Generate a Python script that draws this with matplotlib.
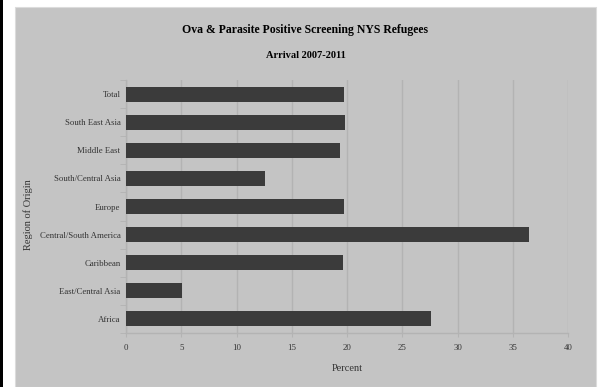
import matplotlib.pyplot as plt
from matplotlib.patches import Rectangle

regions = ['Africa', 'East/Central Asia', 'Caribbean', 'Central/South America',
           'Europe', 'South/Central Asia', 'Middle East', 'South East Asia', 'Total']
percent = [27.6, 5.05, 19.6, 36.5, 19.7, 12.6, 19.35, 19.8, 19.7]
xticks = [0, 5, 10, 15, 20, 25, 30, 35, 40]

plt.rcParams['font.family'] = ['Liberation Serif', 'DejaVu Serif']

W, H = 602, 387
fig = plt.figure(figsize=(W / 100, H / 100), dpi=100)
fig.patch.set_facecolor('white')

# gray chart area and left black border
fig.add_artist(Rectangle((15 / W, 0), (596 - 15) / W, (H - 7) / H,
                         transform=fig.transFigure, facecolor='#c4c4c4',
                         edgecolor='#dcdcdc', linewidth=0.8, zorder=0))
fig.add_artist(Rectangle((0, 0), 2.5 / W, 1, transform=fig.transFigure,
                         facecolor='black', edgecolor='none', zorder=0))

ax = fig.add_axes([126 / W, (H - 333) / H, (568 - 126) / W, (333 - 80) / H])
ax.set_facecolor('#c4c4c4')

ypos = list(range(len(regions)))
ax.barh(ypos, percent, height=0.53, color='#3b3b3b', zorder=3)

ax.set_xlim(0, 40)
ax.set_ylim(-0.5, len(regions) - 0.5)
ax.set_xticks(xticks)
ax.set_xticklabels([str(t) for t in xticks], fontsize=6.3, color='#333333')
ax.set_yticks(ypos)
ax.set_yticklabels(regions, fontsize=6.3, color='#333333')
ax.set_yticks([y - 0.5 for y in ypos] + [len(regions) - 0.5], minor=True)

ax.grid(axis='x', color='#b3b3b3', linewidth=1.0, zorder=1)
for s in ['top', 'right']:
    ax.spines[s].set_visible(False)
ax.spines['left'].set_color('#b3b3b3')
ax.spines['bottom'].set_color('#b3b3b3')
ax.spines['left'].set_linewidth(1.0)
ax.spines['bottom'].set_linewidth(1.0)
ax.tick_params(axis='y', which='major', length=0, pad=4)
ax.tick_params(axis='y', which='minor', length=4, color='#b3b3b3')
ax.tick_params(axis='x', length=3, color='#b3b3b3', pad=5)

ax.set_xlabel('Percent', fontsize=7.5, color='#333333')
ax.xaxis.set_label_coords(0.5, -(364 - 333) / 253)
ax.set_ylabel('Region of Origin', fontsize=7.5, color='#333333')
ax.yaxis.set_label_coords((33 - 126) / 442, (333 - 215) / 253)

fig.text(0.5 * (15 + 596) / W, 1 - 30 / H, 'Ova & Parasite Positive Screening NYS Refugees',
         ha='center', va='center', fontsize=8.5, fontweight='bold')
fig.text(0.5 * (15 + 596) / W, 1 - 56 / H, 'Arrival 2007-2011',
         ha='center', va='center', fontsize=7.5, fontweight='bold')

fig.savefig('out.png', dpi=100, facecolor=fig.get_facecolor())
